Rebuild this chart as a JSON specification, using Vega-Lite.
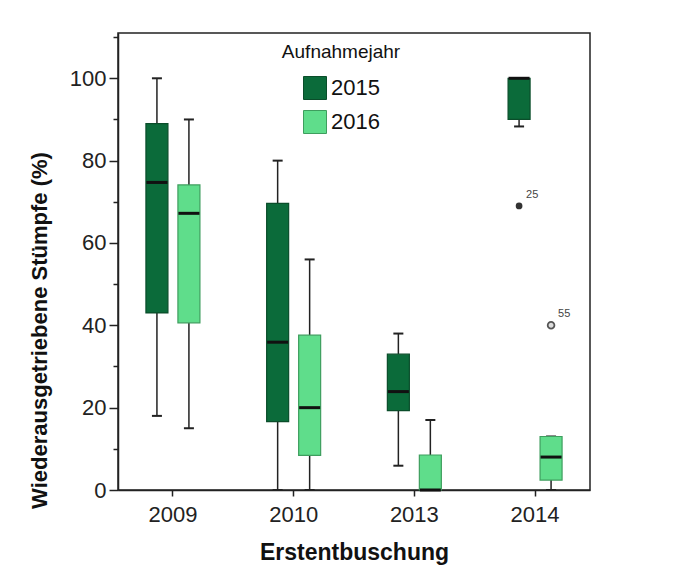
{
  "$schema": "https://vega.github.io/schema/vega-lite/v6.json",
  "autosize": "none",
  "width": 472,
  "height": 457,
  "padding": {"left": 118, "top": 33, "right": 99, "bottom": 78},
  "background": "white",
  "config": {
    "font": "Liberation Sans",
    "view": {"stroke": "#222", "strokeWidth": 1.5},
    "axis": {"domainColor": "#222", "domainWidth": 1.5, "tickColor": "#222", "tickWidth": 1.5, "labelColor": "#222", "titleColor": "#111", "grid": false}
  },
  "datasets": {
    "boxes": [
      {"year": "2009", "group": "2015", "min": 18, "q1": 43, "median": 74.7, "q3": 89, "max": 100},
      {"year": "2009", "group": "2016", "min": 15, "q1": 40.6, "median": 67.2, "q3": 74.1, "max": 90},
      {"year": "2010", "group": "2015", "min": 0, "q1": 16.6, "median": 35.9, "q3": 69.6, "max": 80},
      {"year": "2010", "group": "2016", "min": 0, "q1": 8.4, "median": 20, "q3": 37.6, "max": 56},
      {"year": "2013", "group": "2015", "min": 5.9, "q1": 19.3, "median": 23.9, "q3": 33, "max": 38},
      {"year": "2013", "group": "2016", "min": 0, "q1": 0, "median": 0, "q3": 8.5, "max": 17},
      {"year": "2014", "group": "2015", "min": 88.3, "q1": 90, "median": 100, "q3": 100, "max": 100},
      {"year": "2014", "group": "2016", "min": 0, "q1": 2.4, "median": 8, "q3": 13, "max": 13}
    ],
    "outliers": [
      {"year": "2014", "group": "2015", "value": 69, "case": "25", "kind": "extreme"},
      {"year": "2014", "group": "2016", "value": 40, "case": "55", "kind": "outlier"}
    ]
  },
  "encoding": {
    "x": {
      "field": "year", "type": "nominal",
      "scale": {"domain": ["2009", "2010", "2013", "2014"], "paddingInner": 0.47, "paddingOuter": 0.19},
      "axis": {"title": "Erstentbuschung", "labelAngle": 0, "labelFontSize": 22, "tickSize": 6, "labelPadding": 8, "titleFontSize": 23, "titleFontWeight": "bold", "titlePadding": 16}
    },
    "xOffset": {
      "field": "group", "type": "nominal",
      "scale": {"domain": ["2015", "2016"], "paddingInner": 0, "paddingOuter": 0}
    }
  },
  "layer": [
    {
      "data": {"name": "boxes"},
      "mark": {"type": "rule", "color": "#222", "strokeWidth": 1.5},
      "encoding": {
        "y": {
          "field": "min", "type": "quantitative",
          "scale": {"domain": [0, 111], "nice": false, "zero": true},
          "axis": {
            "title": "Wiederausgetriebene Stümpfe (%)",
            "values": [0, 5, 10, 15, 20, 25, 30, 35, 40, 45, 50, 55, 60, 65, 70, 75, 80, 85, 90, 95, 100, 105, 110],
            "labelExpr": "datum.value % 20 === 0 ? datum.label : ''",
            "tickSize": {"condition": {"test": "datum.value % 20 === 0", "value": 9}, "value": 5},
            "labelFontSize": 22, "labelPadding": 3,
            "titleFontSize": 22, "titleFontWeight": "bold",
            "titleX": -79, "titleY": 297, "titleAngle": -90, "titleAlign": "center", "titleBaseline": "middle"
          }
        },
        "y2": {"field": "q1"}
      }
    },
    {
      "data": {"name": "boxes"},
      "mark": {"type": "rule", "color": "#222", "strokeWidth": 1.5},
      "encoding": {
        "y": {"field": "q3", "type": "quantitative"},
        "y2": {"field": "max"}
      }
    },
    {
      "data": {"name": "boxes"},
      "mark": {"type": "tick", "orient": "horizontal", "color": "#222", "size": 10, "thickness": 2, "opacity": 1},
      "encoding": {"y": {"field": "min", "type": "quantitative"}}
    },
    {
      "data": {"name": "boxes"},
      "mark": {"type": "tick", "orient": "horizontal", "color": "#222", "size": 10, "thickness": 2, "opacity": 1},
      "encoding": {"y": {"field": "max", "type": "quantitative"}}
    },
    {
      "data": {"name": "boxes"},
      "mark": {"type": "bar", "width": 22, "strokeWidth": 1.2, "opacity": 1},
      "encoding": {
        "y": {"field": "q1", "type": "quantitative"},
        "y2": {"field": "q3"},
        "color": {
          "field": "group", "type": "nominal",
          "scale": {"domain": ["2015", "2016"], "range": ["#0b6b3a", "#5fdd8b"]},
          "legend": {
            "title": "Aufnahmejahr", "orient": "none", "legendX": 164, "legendY": 10,
            "titleFontSize": 19, "titleFontWeight": "normal", "titleColor": "#111", "titleAnchor": "middle", "titlePadding": 14,
            "labelFontSize": 22, "labelColor": "#111", "labelOffset": 4,
            "symbolType": "square", "symbolSize": 529, "symbolStrokeColor": "#1e5a36", "symbolStrokeWidth": 1, "symbolOpacity": 1,
            "rowPadding": 6
          }
        },
        "stroke": {
          "field": "group", "type": "nominal",
          "scale": {"domain": ["2015", "2016"], "range": ["#0a4d2a", "#3e9e5e"]},
          "legend": null
        }
      }
    },
    {
      "data": {"name": "boxes"},
      "mark": {"type": "tick", "orient": "horizontal", "color": "#111", "size": 21, "thickness": 3, "opacity": 1},
      "encoding": {"y": {"field": "median", "type": "quantitative"}}
    },
    {
      "data": {"name": "outliers"},
      "transform": [{"filter": "datum.kind === 'extreme'"}],
      "mark": {"type": "point", "shape": "circle", "filled": true, "size": 45, "color": "#333", "opacity": 1},
      "encoding": {"y": {"field": "value", "type": "quantitative"}}
    },
    {
      "data": {"name": "outliers"},
      "transform": [{"filter": "datum.kind === 'outlier'"}],
      "mark": {"type": "point", "shape": "circle", "filled": false, "size": 45, "stroke": "#555", "strokeWidth": 1.8, "fill": "#ddd", "fillOpacity": 1, "opacity": 1},
      "encoding": {"y": {"field": "value", "type": "quantitative"}}
    },
    {
      "data": {"name": "outliers"},
      "mark": {"type": "text", "align": "left", "baseline": "middle", "dx": 7, "dy": -11, "fontSize": 11, "color": "#444"},
      "encoding": {
        "y": {"field": "value", "type": "quantitative"},
        "text": {"field": "case", "type": "nominal"}
      }
    }
  ]
}
